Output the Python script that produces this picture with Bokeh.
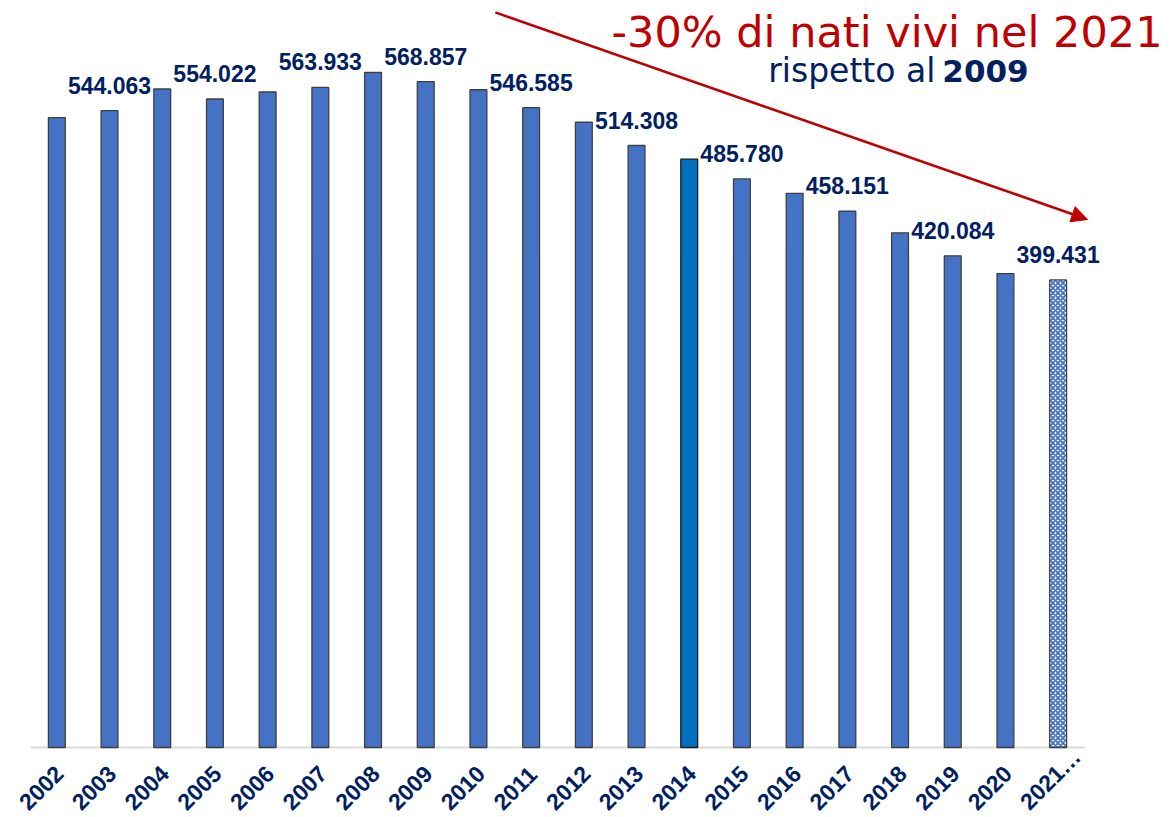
import math
from bokeh.plotting import figure
from bokeh.models import (ColumnDataSource, Range1d, LabelSet, Label, Arrow, NormalHead)
from bokeh.core.properties import value
from bokeh.embed import file_html
from bokeh.resources import INLINE

years = ["2002", "2003", "2004", "2005", "2006", "2007", "2008", "2009", "2010", "2011",
         "2012", "2013", "2014", "2015", "2016", "2017", "2018", "2019", "2020", "2021…"]
births = [538198, 544063, 562599, 554022, 560010, 563933, 576659, 568857, 561944, 546585,
          534186, 514308, 502596, 485780, 473438, 458151, 439747, 420084, 404892, 399431]
labelled_years = ["2003", "2005", "2007", "2009", "2011", "2013", "2015", "2017", "2019", "2021…"]
highlight_year = "2014"
provisional_year = "2021…"

BLUE = "#4472C4"
HIGHLIGHT = "#0070C0"
NAVY = "#002060"
RED = "#C00000"

n = len(years)
xs = list(range(n))
fills = [HIGHLIGHT if y == highlight_year else BLUE for y in years]
lines = ["#1a1a1a" if y == highlight_year else "#404040" for y in years]

main_idx = [i for i, y in enumerate(years) if y != provisional_year]
prov_idx = [i for i, y in enumerate(years) if y == provisional_year]

src_main = ColumnDataSource(dict(
    x=[xs[i] for i in main_idx], top=[births[i] for i in main_idx],
    fill=[fills[i] for i in main_idx], line=[lines[i] for i in main_idx]))
src_prov = ColumnDataSource(dict(
    x=[xs[i] for i in prov_idx], top=[births[i] for i in prov_idx]))

lab_idx = [i for i, y in enumerate(years) if y in labelled_years]
src_lab = ColumnDataSource(dict(
    x=[xs[i] for i in lab_idx], y=[births[i] for i in lab_idx],
    text=[f"{births[i] / 1000:.3f}" for i in lab_idx]))

src_years = ColumnDataSource(dict(x=xs, y=[0] * n, text=years))

p = figure(width=1169, height=817, output_backend="svg", toolbar_location=None,
           x_range=Range1d(-1.069, 21.113), y_range=Range1d(-59800, 638190),
           min_border_left=0, min_border_right=0, min_border_top=0, min_border_bottom=0)
p.outline_line_color = None
p.xgrid.visible = False
p.ygrid.visible = False
p.axis.visible = False
p.background_fill_color = "white"
p.border_fill_color = "white"

# baseline (category axis line)
p.segment(x0=[-0.5], x1=[n - 0.5], y0=[0], y1=[0], line_color="#D9D9D9", line_width=2)

p.vbar(x="x", top="top", width=0.32, source=src_main, fill_color="fill",
       line_color="line", line_width=1.3)
p.vbar(x="x", top="top", width=0.32, source=src_prov, fill_color="white",
       line_color="#404040", line_width=1.3, hatch_pattern="diagonal_cross",
       hatch_color=BLUE, hatch_scale=5, hatch_weight=1.8)

# rotated category labels (anchored at their start, reading upward)
p.text(x="x", y="y", text="text", source=src_years, angle=math.pi / 4,
       text_align="left", text_baseline="middle", x_offset=-34, y_offset=58,
       text_font=value("Liberation Sans"), text_font_style="bold",
       text_font_size="23px", text_color=NAVY)

labels = LabelSet(x="x", y="y", text="text", source=src_lab, text_align="center",
                  text_baseline="alphabetic", y_offset=17,
                  text_font=value("Liberation Sans"), text_font_style="bold",
                  text_font_size="23px", text_color=NAVY)
p.add_layout(labels)

p.add_layout(Arrow(end=NormalHead(size=16, fill_color=RED, line_color=RED),
                   x_start=8.32, y_start=628000, x_end=19.56, y_end=451100,
                   line_color=RED, line_width=2.5))

p.add_layout(Label(x=20.98, y=611700, text="-30% di nati vivi nel 2021", text_align="right",
                   text_baseline="alphabetic", text_font="DejaVu Sans", text_font_size="43px",
                   text_color=RED))
p.add_layout(Label(x=16.67, y=578000, text="rispetto al", text_align="right",
                   text_baseline="alphabetic", text_font="DejaVu Sans", text_font_size="33px",
                   text_color=NAVY))
p.add_layout(Label(x=18.44, y=578000, text="2009", text_align="right",
                   text_baseline="alphabetic", text_font="DejaVu Sans",
                   text_font_style="bold", text_font_size="31px", text_color=NAVY))

open("out.html", "w").write(file_html(p, INLINE))
